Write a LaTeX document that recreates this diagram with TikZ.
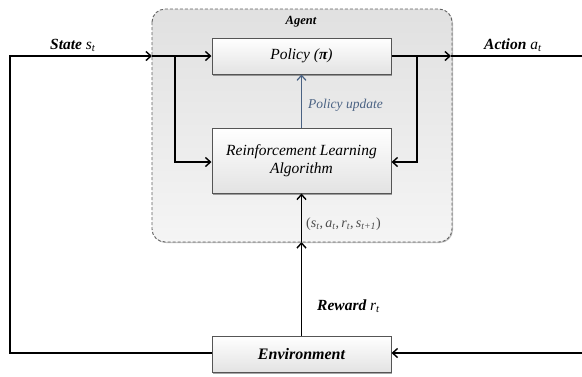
\documentclass[tikz,border=0pt]{standalone}
\usepackage{fontspec}
\setmainfont{Liberation Serif}
\usetikzlibrary{arrows.meta,shadows,positioning}

\definecolor{upd}{HTML}{4A6283}
\definecolor{edge}{HTML}{555555}

\tikzset{
  x=1pt, y=-1pt,
  tip/.tip={Straight Barb[length=5pt,width=9pt,line width=1.4pt]},
  flow/.style={line width=1.6pt, black},
  block/.style={draw=edge, line width=1pt, rectangle, minimum width=179pt,
    top color=white, bottom color=gray!22, align=center,
    font=\fontsize{15.5}{18}\selectfont\itshape,
    drop shadow={shadow xshift=1.2pt, shadow yshift=-1.5pt, opacity=0.35, fill=black}},
  agentbox/.style={draw=gray!75!black, dashed, dash pattern=on 3pt off 2pt, line width=0.9pt,
    rounded corners=13pt, top color=gray!24, bottom color=gray!8,
    drop shadow={shadow xshift=1pt, shadow yshift=-1pt, opacity=0.25, fill=black}},
  lbl/.style={font=\fontsize{15.5}{18}\selectfont\bfseries\itshape, inner xsep=0pt, anchor=base west},
}

\begin{document}
\begin{tikzpicture}
  \useasboundingbox (0,0) rectangle (582,376);

  % agent container
  \path[agentbox] (152,9) rectangle (452,242);
  \node[font=\fontsize{12.5}{14}\selectfont\bfseries\itshape] (agent) at (301,22) {Agent};

  % blocks
  \node[block, minimum height=36pt] (policy) at (301.5,56) {Policy ({\bfseries π})};
  \node[block, minimum height=65pt] (rl) at (301.5,160.5) {Reinforcement Learning\\Algorithm};
  \node[block, minimum height=36pt, font=\fontsize{16}{18}\selectfont\bfseries\itshape] (env) at (301.5,354) {Environment};

  % free ends and junctions
  \coordinate (sL) at (10,56);
  \coordinate (sIn) at (152,56);
  \coordinate (sBr) at (175,56);
  \coordinate (aOut) at (451,56);
  \coordinate (aBr) at (417,56);
  \coordinate (aR) at (582,56);
  \coordinate (eR) at (582,353);
  \coordinate (eL) at (10,353);
  \coordinate (rIn) at (301.5,242);

  % state into the agent
  \draw[flow, -{tip}] (env.west |- eL) -- (eL) -- (sL) -- (sIn);
  \draw[flow, -{tip}] (sIn) -- (policy.west);
  \draw[flow, -{tip}] (sBr) |- (rl.west |- 0,162);

  % action out of the agent
  \draw[flow, -{tip}] (policy.east) -- (aOut);
  \draw[flow] (aOut) -- (aR);
  \draw[flow, -{tip}] (aBr) |- (rl.east |- 0,162);
  \draw[flow, -{tip}] (eR) -- (env.east |- eR);

  % reward
  \draw[flow, -{tip}] (env.north) -- (rIn);
  \draw[flow, -{tip}] (rIn) -- (rl.south);

  % policy update
  \draw[line width=1.3pt, upd, -{Straight Barb[length=5pt,width=9pt,line width=1.2pt]}] (rl.north) -- (policy.south);

  % labels
  \node[lbl] (slab) at (50,49) {State \mdseries\textit{s}\textsubscript{\textit{t}}};
  \node[lbl] (alab) at (484,49) {Action \mdseries\textit{a}\textsubscript{\textit{t}}};
  \node[lbl] (rlab) at (317,310) {Reward \mdseries\textit{r}\textsubscript{\textit{t}}};
  \node[upd, font=\fontsize{13.5}{16}\selectfont\itshape, anchor=base] (plab) at (345.5,108) {Policy update};
  \node[gray!60!black, font=\fontsize{14}{16}\selectfont\itshape, anchor=base west, inner xsep=0pt] (tup) at (306,227)
    {\upshape(\itshape s\textsubscript{t}\upshape,\,\itshape a\textsubscript{t}\upshape,\,\itshape r\textsubscript{t}\upshape,\,\itshape s\textsubscript{t+1}\upshape)};
\end{tikzpicture}
\end{document}
